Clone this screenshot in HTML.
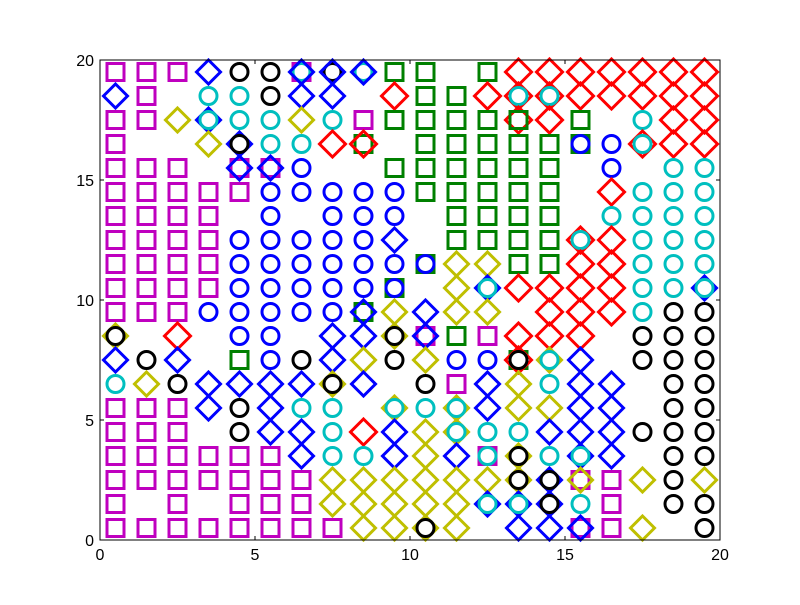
<!DOCTYPE html>
<html><head><meta charset="utf-8"><style>
body{margin:0;background:#fff;}
svg text{font-family:"Liberation Sans",sans-serif;font-size:16px;}
</style></head><body>
<svg id="chart" width="800" height="600" xmlns="http://www.w3.org/2000/svg">
<rect x="0" y="0" width="800" height="600" fill="#fff"/>
<g id="marks"></g>
<g id="axes"></g>
</svg>
<script>
// rows from y=19 (top) down to y=0; 20 cells each; '-' = empty; '+' = overlapping markers
const rows = [
"ms ms ms bd ko ko ms+co+bd ko+bd co+bd gs gs - gs rd rd rd rd rd rd rd",
"bd ms - co co ko bd bd - rd gs gs rd rd+co rd+co rd rd rd rd rd",
"ms ms yd bd+co co co yd co ms gs gs gs gs rd+gs rd gs - co rd rd",
"ms - - yd bd+ko co co rd gs+rd - gs gs gs gs gs gs+bo bo rd+co rd rd",
"ms ms ms - ms+bd ms+bd bo - - gs gs gs gs gs gs - bo - co co",
"ms ms ms ms ms bo bo bo bo bo gs gs gs gs gs - rd co co co",
"ms ms ms ms - bo - bo bo bo - gs gs gs gs - co co co co",
"ms ms ms ms bo bo bo bo bo bd - gs gs gs gs rd+co rd co co co",
"ms ms ms ms bo bo bo bo bo bo gs+bo yd yd gs gs rd rd co co co",
"ms ms ms ms bo bo bo bo bo gs+bo - yd bd+co rd rd rd rd co co bd+co",
"ms ms ms bo bo bo bo bo gs+bd yd bd yd yd - rd rd rd co ko ko",
"yd+ko - rd - bo bo - bd bd yd+ko ms+bd gs ms rd rd rd - ko ko ko",
"bd ko bd - gs bo ko bd yd ko yd bo bo gs+rd+ko yd+co bd - ko ko ko",
"co yd ko bd bd bd bd yd+ko bd - ko ms bd yd co bd bd - ko ko",
"ms ms ms bd ko bd co co - yd+co co yd+co bd yd yd bd bd - ko ko",
"ms ms ms - ko bd bd co rd bd yd yd+co co co bd bd bd ko ko ko",
"ms ms ms ms ms ms bd co co bd yd bd ms+co yd+ko co bd+co bd - ko ko",
"ms ms ms ms ms ms ms yd yd yd yd yd yd yd+ko bd+ko ms+yd ms yd ko yd",
"ms - ms - ms ms ms yd yd yd yd yd bd+co bd+co bd+ko co ms - ko ko",
"ms ms ms ms ms ms ms ms yd yd yd+ko yd - bd bd ms+bd ms yd - ko"
];
const xTicks = [0,5,10,15,20];
const yTicks = [0,5,10,15,20];
const colors = {m:"#bf00bf",b:"#0000ff",g:"#008000",r:"#ff0000",c:"#00bfbf",y:"#bfbf00",k:"#000000"};
const X0=100,X1=720,Y0=540,Y1=60;
const sx=v=>X0+(X1-X0)*v/20, sy=v=>Y0-(Y0-Y1)*v/20;
const NS="http://www.w3.org/2000/svg";
const marks=document.getElementById('marks');
rows.forEach((row,ri)=>{
  const yv=19-ri+0.5;
  row.split(' ').forEach((cell,ci)=>{
    if(cell==='-')return;
    const xv=ci+0.5;
    cell.split('+').forEach(tok=>{
      const col=colors[tok[0]], shp=tok[1];
      const cx=sx(xv), cy=sy(yv);
      let el;
      if(shp==='s'){el=document.createElementNS(NS,'rect');el.setAttribute('x',cx-8.5);el.setAttribute('y',cy-8.5);el.setAttribute('width',17);el.setAttribute('height',17);}
      else if(shp==='o'){el=document.createElementNS(NS,'circle');el.setAttribute('cx',cx);el.setAttribute('cy',cy);el.setAttribute('r',8.5);}
      else{el=document.createElementNS(NS,'polygon');const h=tok[0]==='r'?13:12;el.setAttribute('points',`${cx},${cy-h} ${cx+h},${cy} ${cx},${cy+h} ${cx-h},${cy}`);}
      el.setAttribute('fill','none');el.setAttribute('stroke',col);el.setAttribute('stroke-width',3);
      
      
      marks.appendChild(el);
    });
  });
});
const axes=document.getElementById('axes');
let h=`<rect x="${X0}" y="${Y1}" width="${X1-X0}" height="${Y0-Y1}" fill="none" stroke="#000" stroke-width="1"/>`;
xTicks.forEach(t=>{const x=sx(t);
 h+=`<line x1="${x}" y1="${Y0}" x2="${x}" y2="${Y0-4}" stroke="#000"/><line x1="${x}" y1="${Y1}" x2="${x}" y2="${Y1+4}" stroke="#000"/>`;
 h+=`<text x="${x}" y="${Y0+20}" text-anchor="middle">${t}</text>`;});
yTicks.forEach(t=>{const y=sy(t);
 h+=`<line x1="${X0}" y1="${y}" x2="${X0+4}" y2="${y}" stroke="#000"/><line x1="${X1}" y1="${y}" x2="${X1-4}" y2="${y}" stroke="#000"/>`;
 h+=`<text x="${X0-6}" y="${y+6}" text-anchor="end">${t}</text>`;});
axes.innerHTML=h;
</script>
</body></html>
